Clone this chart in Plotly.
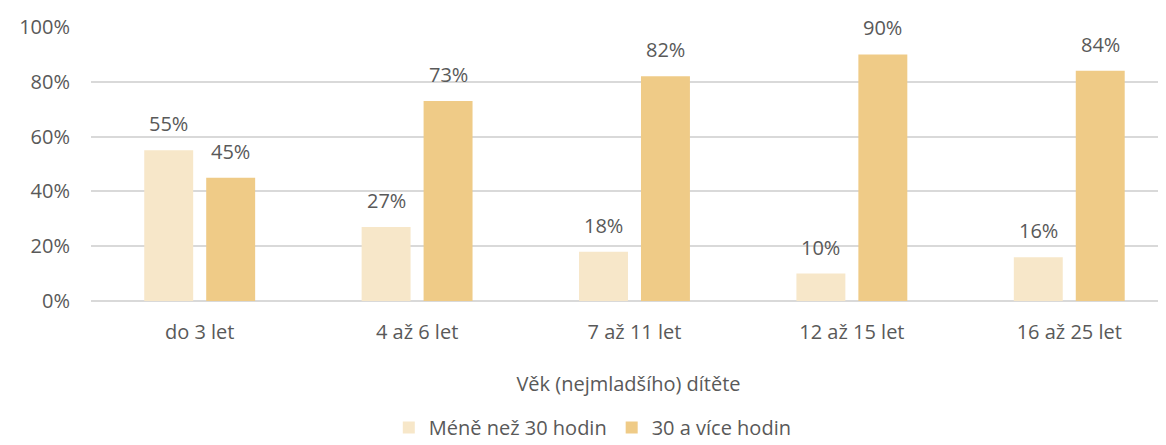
import plotly.graph_objects as go

categories = ["do 3 let", "4 až 6 let", "7 až 11 let", "12 až 15 let", "16 až 25 let"]
less_30 = [0.55, 0.27, 0.18, 0.10, 0.16]
more_30 = [0.45, 0.73, 0.82, 0.90, 0.84]
series_names = ["Méně než 30 hodin", "30 a více hodin"]
tick_vals = [0, 0.2, 0.4, 0.6, 0.8, 1.0]
tick_text = ["0%", "20%", "40%", "60%", "80%", "100%"]

FONT = "'Open Sans', Lato, sans-serif"
GREY = "#595959"
FS = 20
BARGAP = 0.43

fig = go.Figure()
series = [(series_names[0], less_30, "#F7E7C9"), (series_names[1], more_30, "#EFCB87")]
for name, vals, color in series:
    fig.add_trace(go.Bar(
        x=categories, y=vals, name=name,
        marker=dict(color=color, line=dict(width=0)),
    ))

offset = (1 - BARGAP) / 4
for k, (name, vals, color) in enumerate(series):
    for i, v in enumerate(vals):
        fig.add_annotation(
            x=i + (offset if k else -offset), y=v, xref="x", yref="y",
            text=f"{round(v*100)}%", showarrow=False,
            yanchor="bottom", yshift=11,
            font=dict(family=FONT, size=FS, color=GREY),
        )

fig.update_layout(
    width=1158, height=437,
    margin=dict(l=83, r=0, t=19, b=144, autoexpand=False),
    paper_bgcolor="white", plot_bgcolor="white",
    barmode="group", bargap=BARGAP, bargroupgap=0.21,
    font=dict(family=FONT, size=FS, color=GREY),
    showlegend=True,
    legend=dict(orientation="h", x=0.505, xanchor="center", xref="container",
                y=-0.462, yanchor="middle", yref="paper",
                font=dict(family=FONT, size=FS, color=GREY), itemwidth=30,
                tracegroupgap=0),
)
fig.update_xaxes(
    range=[-0.5, 4.445],
    title=dict(text="Věk (nejmladšího) dítěte", font=dict(family=FONT, size=FS, color=GREY), standoff=32),
    tickfont=dict(family=FONT, size=FS, color=GREY),
    showline=False, showgrid=False, ticks="", ticklabelstandoff=17,
)
fig.update_yaxes(
    range=[0, 1.0], tickvals=tick_vals, ticktext=tick_text,
    tickfont=dict(family=FONT, size=FS, color=GREY),
    showgrid=True, gridcolor="#D9D9D9", gridwidth=1.5,
    zeroline=True, zerolinecolor="#D9D9D9", zerolinewidth=1.5,
    showline=False, ticks="", ticklabelstandoff=20,
)

fig.write_html("out.html")
